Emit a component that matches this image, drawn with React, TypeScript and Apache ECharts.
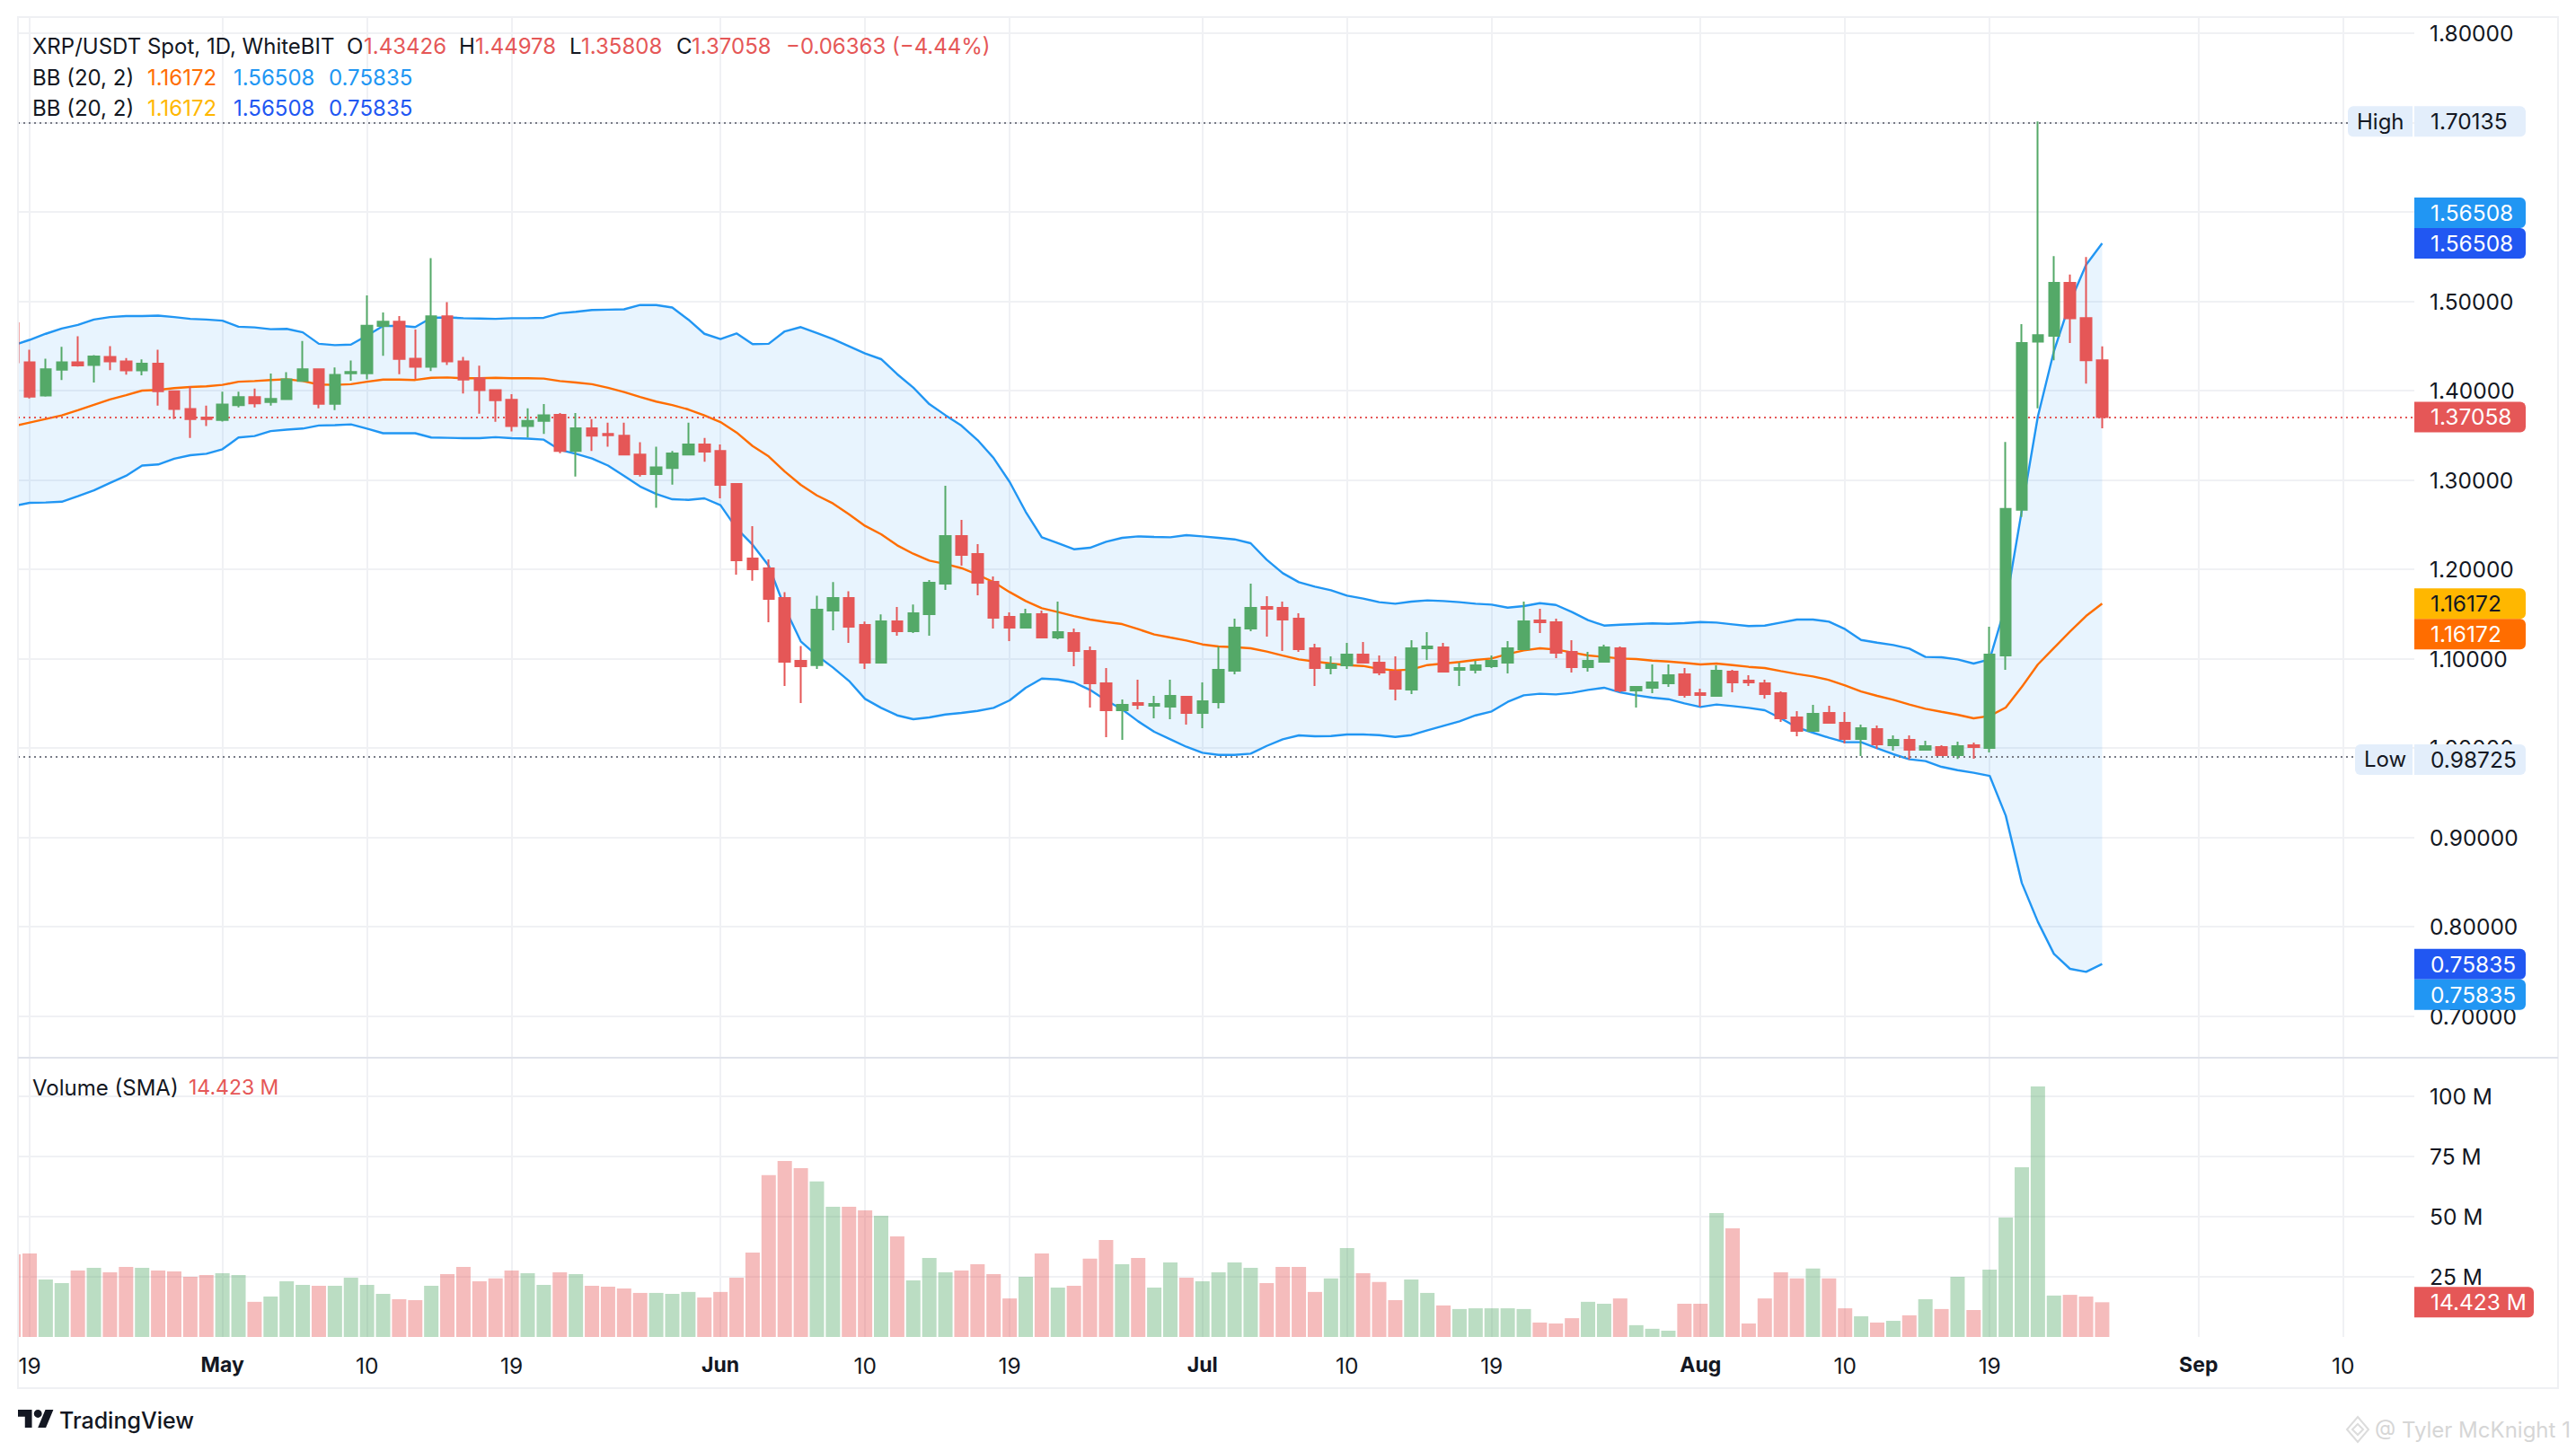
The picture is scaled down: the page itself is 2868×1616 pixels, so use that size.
import React, { useEffect, useRef } from "react";
import * as echarts from "echarts";

// index 0 is 18 Apr, index 1 is 19 Apr, ... last index is 26 Aug
const opens = [
  1.4757, 1.4320, 1.3946, 1.4236, 1.4320, 1.4288, 1.4379, 1.4328, 1.4228, 1.4304,
  1.3994, 1.3795, 1.3700, 1.3672, 1.3839, 1.3930, 1.3874, 1.3906, 1.4109, 1.4240,
  1.3855, 1.4196, 1.4196, 1.4725, 1.4773, 1.4360, 1.4268, 1.4833, 1.4328, 1.4141,
  1.4006, 1.3898, 1.3604, 1.3664, 1.3731, 1.3326, 1.3580, 1.3517, 1.3497, 1.3287,
  1.3068, 1.3135, 1.3287, 1.3398, 1.3326, 1.2957, 1.2123, 1.2012, 1.1680, 1.0977,
  1.0930, 1.1540, 1.1680, 1.1379, 1.0957, 1.1419, 1.1309, 1.1500, 1.1841, 1.2374,
  1.2173, 1.1861, 1.1469, 1.1349, 1.1500, 1.1238, 1.1288, 1.1087, 1.0726, 1.0424,
  1.0504, 1.0474, 1.0464, 1.0575, 1.0394, 1.0515, 1.0866, 1.1339, 1.1580, 1.1570,
  1.1449, 1.1118, 1.0897, 1.0927, 1.1047, 1.0957, 1.0856, 1.0655, 1.1118, 1.1128,
  1.0876, 1.0876, 1.0917, 1.0957, 1.1108, 1.1429, 1.1409, 1.1077, 1.0906, 1.0967,
  1.1118, 1.0645, 1.0675, 1.0726, 1.0826, 1.0615, 1.0585, 1.0856, 1.0756, 1.0726,
  1.0615, 1.0344, 1.0193, 1.0394, 1.0283, 1.0103, 1.0213, 1.0032, 1.0092, 0.9982,
  1.0012, 0.9922, 1.0032, 1.0002, 1.1037, 1.2669, 1.4550, 1.4615, 1.5207, 1.4815,
  1.43426,
];
const highs = [
  1.4757, 1.4459, 1.4360, 1.4491, 1.4610, 1.4399, 1.4499, 1.4367, 1.4352, 1.4459,
  1.3994, 1.4050, 1.3835, 1.3990, 1.3990, 1.4026, 1.4193, 1.4209, 1.4558, 1.4240,
  1.4260, 1.4340, 1.5067, 1.4876, 1.4836, 1.4685, 1.5484, 1.4992, 1.4379, 1.4280,
  1.4010, 1.3962, 1.3803, 1.3851, 1.3751, 1.3751, 1.3684, 1.3644, 1.3644, 1.3425,
  1.3374, 1.3326, 1.3644, 1.3473, 1.3398, 1.2957, 1.2484, 1.2112, 1.1747, 1.1144,
  1.1707, 1.1858, 1.1757, 1.1416, 1.1496, 1.1580, 1.1607, 1.1881, 1.2937, 1.2555,
  1.2283, 1.1922, 1.1520, 1.1560, 1.1540, 1.1640, 1.1338, 1.1138, 1.0896, 1.0545,
  1.0766, 1.0585, 1.0766, 1.0585, 1.0736, 1.1138, 1.1449, 1.1841, 1.1700, 1.1640,
  1.1509, 1.1168, 1.1027, 1.1178, 1.1188, 1.1037, 1.1027, 1.1208, 1.1298, 1.1178,
  1.0957, 1.0977, 1.1037, 1.1198, 1.1640, 1.1560, 1.1449, 1.1208, 1.1077, 1.1158,
  1.1138, 1.0695, 1.0937, 1.0937, 1.0897, 1.0665, 1.0927, 1.0876, 1.0816, 1.0766,
  1.0635, 1.0414, 1.0484, 1.0474, 1.0404, 1.0263, 1.0253, 1.0143, 1.0143, 1.0082,
  1.0032, 1.0072, 1.0062, 1.1359, 1.3427, 1.4746, 1.70135, 1.5507, 1.5300, 1.5496,
  1.44978,
];
const lows = [
  1.4320, 1.3914, 1.3934, 1.4121, 1.4272, 1.4093, 1.4232, 1.4181, 1.4173, 1.3835,
  1.3684, 1.3473, 1.3604, 1.3656, 1.3815, 1.3815, 1.3835, 1.3906, 1.4101, 1.3803,
  1.3783, 1.4113, 1.4129, 1.4391, 1.4185, 1.4133, 1.4220, 1.4288, 1.3970, 1.3743,
  1.3652, 1.3545, 1.3477, 1.3517, 1.3302, 1.3040, 1.3326, 1.3374, 1.3275, 1.3040,
  1.2690, 1.2949, 1.3278, 1.3207, 1.2797, 1.1942, 1.1875, 1.1409, 1.0695, 1.0505,
  1.0886, 1.1319, 1.1178, 1.0886, 1.0957, 1.1258, 1.1288, 1.1258, 1.1771, 1.2042,
  1.1711, 1.1339, 1.1198, 1.1338, 1.1228, 1.1218, 1.0917, 1.0454, 1.0123, 1.0092,
  1.0434, 1.0334, 1.0324, 1.0263, 1.0223, 1.0444, 1.0826, 1.1308, 1.1248, 1.1087,
  1.1077, 1.0695, 1.0826, 1.0886, 1.0957, 1.0816, 1.0535, 1.0605, 1.0987, 1.0856,
  1.0696, 1.0836, 1.0897, 1.0836, 1.1098, 1.1289, 1.1007, 1.0846, 1.0856, 1.0957,
  1.0625, 1.0454, 1.0615, 1.0686, 1.0565, 1.0464, 1.0585, 1.0625, 1.0696, 1.0555,
  1.0294, 1.0133, 1.0193, 1.0273, 1.0052, 0.9912, 0.9992, 0.9972, 0.98725, 0.9972,
  0.9912, 0.9880, 0.9882, 0.9952, 1.0876, 1.2588, 1.3804, 1.4342, 1.4534, 1.4080,
  1.35808,
];
const closes = [
  1.4320, 1.3934, 1.4240, 1.4320, 1.4284, 1.4383, 1.4328, 1.4228, 1.4304, 1.3994,
  1.3795, 1.3684, 1.3684, 1.3847, 1.3930, 1.3859, 1.3910, 1.4129, 1.4240, 1.3855,
  1.4177, 1.4212, 1.4729, 1.4773, 1.4356, 1.4268, 1.4833, 1.4328, 1.4125, 1.4006,
  1.3894, 1.3604, 1.3664, 1.3727, 1.3326, 1.3580, 1.3497, 1.3501, 1.3287, 1.3068,
  1.3143, 1.3298, 1.3398, 1.3318, 1.2948, 1.2103, 1.2002, 1.1670, 1.0967, 1.0917,
  1.1550, 1.1680, 1.1359, 1.0957, 1.1419, 1.1309, 1.1509, 1.1851, 1.2374, 1.2163,
  1.1851, 1.1459, 1.1349, 1.1500, 1.1238, 1.1298, 1.1087, 1.0726, 1.0424, 1.0484,
  1.0484, 1.0494, 1.0585, 1.0394, 1.0525, 1.0876, 1.1349, 1.1570, 1.1560, 1.1439,
  1.1107, 1.0897, 1.0937, 1.1047, 1.0957, 1.0846, 1.0665, 1.1118, 1.1138, 1.0856,
  1.0896, 1.0927, 1.0977, 1.1118, 1.1419, 1.1409, 1.1067, 1.0906, 1.0977, 1.1128,
  1.0645, 1.0685, 1.0736, 1.0816, 1.0595, 1.0595, 1.0866, 1.0736, 1.0736, 1.0605,
  1.0334, 1.0193, 1.0384, 1.0283, 1.0103, 1.0223, 1.0042, 1.0092, 0.9982, 1.0022,
  0.9922, 1.0022, 1.0012, 1.1047, 1.2677, 1.4534, 1.4623, 1.5207, 1.4811, 1.43421,
  1.37058,
];
const bbUpper = [
  1.4510, 1.4570, 1.4638, 1.4697, 1.4737, 1.4797, 1.4825, 1.4837, 1.4837, 1.4841,
  1.4825, 1.4805, 1.4797, 1.4785, 1.4717, 1.4709, 1.4689, 1.4693, 1.4654, 1.4526,
  1.4511, 1.4518, 1.4618, 1.4725, 1.4729, 1.4713, 1.4817, 1.4821, 1.4813, 1.4809,
  1.4805, 1.4813, 1.4813, 1.4817, 1.4868, 1.4884, 1.4904, 1.4908, 1.4912, 1.4960,
  1.4960, 1.4932, 1.4797, 1.4638, 1.4578, 1.4642, 1.4522, 1.4526, 1.4665, 1.4713,
  1.4646, 1.4578, 1.4499, 1.4419, 1.4354, 1.4186, 1.4036, 1.3851, 1.3727, 1.3610,
  1.3449, 1.3248, 1.2980, 1.2645, 1.2360, 1.2294, 1.2226, 1.2243, 1.2310, 1.2354,
  1.2370, 1.2364, 1.2360, 1.2384, 1.2370, 1.2354, 1.2337, 1.2294, 1.2109, 1.1958,
  1.1858, 1.1808, 1.1768, 1.1707, 1.1674, 1.1634, 1.1617, 1.1640, 1.1654, 1.1647,
  1.1634, 1.1617, 1.1607, 1.1573, 1.1590, 1.1623, 1.1603, 1.1523, 1.1433, 1.1372,
  1.1382, 1.1389, 1.1396, 1.1392, 1.1399, 1.1412, 1.1406, 1.1386, 1.1366, 1.1372,
  1.1406, 1.1439, 1.1439, 1.1416, 1.1332, 1.1211, 1.1181, 1.1154, 1.1114, 1.1021,
  1.1017, 1.0994, 1.0947, 1.0994, 1.1600, 1.2659, 1.3714, 1.4444, 1.4989, 1.5410,
  1.56508,
];
const bbLower = [
  1.2710, 1.2746, 1.2750, 1.2758, 1.2821, 1.2885, 1.2969, 1.3048, 1.3163, 1.3175,
  1.3239, 1.3279, 1.3295, 1.3346, 1.3477, 1.3493, 1.3549, 1.3565, 1.3577, 1.3612,
  1.3616, 1.3624, 1.3577, 1.3525, 1.3525, 1.3525, 1.3477, 1.3473, 1.3469, 1.3469,
  1.3481, 1.3469, 1.3465, 1.3453, 1.3338, 1.3295, 1.3243, 1.3163, 1.3048, 1.2929,
  1.2846, 1.2786, 1.2779, 1.2796, 1.2719, 1.2461, 1.2277, 1.2042, 1.1573, 1.1195,
  1.1037, 1.0903, 1.0753, 1.0551, 1.0451, 1.0367, 1.0324, 1.0344, 1.0377, 1.0394,
  1.0417, 1.0451, 1.0535, 1.0675, 1.0779, 1.0769, 1.0736, 1.0652, 1.0535, 1.0434,
  1.0300, 1.0183, 1.0099, 1.0015, 0.9948, 0.9925, 0.9925, 0.9938, 1.0025, 1.0099,
  1.0143, 1.0133, 1.0136, 1.0153, 1.0153, 1.0146, 1.0126, 1.0146, 1.0200, 1.0250,
  1.0300, 1.0367, 1.0411, 1.0518, 1.0592, 1.0609, 1.0602, 1.0619, 1.0652, 1.0676,
  1.0625, 1.0592, 1.0565, 1.0548, 1.0501, 1.0461, 1.0488, 1.0471, 1.0451, 1.0424,
  1.0334, 1.0233, 1.0173, 1.0116, 1.0066, 1.0066, 0.9999, 0.9932, 0.9875, 0.9855,
  0.9791, 0.9754, 0.9724, 0.9690, 0.9245, 0.8491, 0.8056, 0.7697, 0.7530, 0.7496,
  0.75835,
];
const bbMiddle = [
  1.3604, 1.3644, 1.3684, 1.3724, 1.3783, 1.3843, 1.3903, 1.3950, 1.4002, 1.4010,
  1.4030, 1.4042, 1.4050, 1.4066, 1.4101, 1.4109, 1.4121, 1.4129, 1.4109, 1.4070,
  1.4066, 1.4074, 1.4101, 1.4125, 1.4125, 1.4121, 1.4145, 1.4149, 1.4141, 1.4141,
  1.4145, 1.4141, 1.4141, 1.4137, 1.4109, 1.4093, 1.4074, 1.4034, 1.3986, 1.3930,
  1.3879, 1.3840, 1.3791, 1.3724, 1.3650, 1.3533, 1.3382, 1.3265, 1.3097, 1.2947,
  1.2829, 1.2739, 1.2618, 1.2488, 1.2394, 1.2270, 1.2176, 1.2099, 1.2062, 1.2015,
  1.1942, 1.1858, 1.1747, 1.1647, 1.1566, 1.1523, 1.1479, 1.1439, 1.1412, 1.1389,
  1.1332, 1.1272, 1.1238, 1.1205, 1.1161, 1.1138, 1.1131, 1.1118, 1.1081, 1.1037,
  1.0994, 1.0970, 1.0947, 1.0930, 1.0920, 1.0887, 1.0870, 1.0880, 1.0930, 1.0947,
  1.0964, 1.0987, 1.1004, 1.1054, 1.1094, 1.1118, 1.1104, 1.1071, 1.1037, 1.1021,
  1.1004, 1.0997, 1.0980, 1.0970, 1.0954, 1.0937, 1.0947, 1.0930, 1.0910, 1.0897,
  1.0863, 1.0830, 1.0803, 1.0763, 1.0702, 1.0635, 1.0585, 1.0541, 1.0488, 1.0441,
  1.0407, 1.0374, 1.0334, 1.0360, 1.0455, 1.0685, 1.0937, 1.1121, 1.1305, 1.1479,
  1.16172,
];
const volumes = [
  34.3, 34.7, 23.9, 22.4, 27.6, 28.7, 26.9, 29.1, 28.7, 27.6,
  27.2, 25.0, 25.7, 26.5, 25.7, 14.6, 16.8, 23.1, 21.6, 21.3,
  21.3, 24.6, 21.6, 17.9, 15.7, 15.3, 21.3, 26.1, 29.1, 23.1,
  24.3, 27.6, 26.5, 21.6, 26.9, 26.1, 21.3, 20.9, 20.1, 18.3,
  18.3, 17.9, 18.7, 16.4, 18.7, 24.6, 35.1, 67.2, 73.1, 70.1,
  64.6, 54.1, 54.1, 52.6, 50.4, 41.8, 23.5, 32.8, 26.9, 27.6,
  30.2, 26.1, 16.0, 25.0, 34.7, 20.5, 21.3, 32.5, 40.3, 30.2,
  32.8, 20.5, 31.0, 24.6, 23.1, 26.9, 31.0, 28.7, 22.4, 29.1,
  29.1, 18.7, 24.3, 36.9, 26.5, 22.8, 15.3, 23.9, 18.3, 13.1,
  11.6, 11.9, 11.9, 11.9, 11.6, 6.0, 5.6, 7.8, 14.6, 13.8,
  16.0, 4.9, 3.4, 2.6, 13.8, 13.8, 51.5, 45.1, 5.6, 16.0,
  26.9, 24.3, 28.4, 24.3, 11.9, 8.6, 6.0, 6.7, 9.0, 15.7,
  11.6, 25.0, 11.2, 28.0, 49.6, 70.5, 104.1, 17.2, 17.5, 16.8,
  14.423,
];

// days counted from 19 Apr
const tickDays = [0, 12, 21, 30, 43, 52, 61, 73, 82, 91, 104, 113, 122, 135, 144];
const tickLabels = ["19", "May", "10", "19", "Jun", "10", "19", "Jul", "10", "19", "Aug", "10", "19", "Sep", "10"];
const monthLabels = ["May", "Jun", "Jul", "Aug", "Sep"];
const priceTicks = [0.7, 0.8, 0.9, 1.0, 1.1, 1.2, 1.3, 1.4, 1.5, 1.8];
const priceGrid = [0.7, 0.8, 0.9, 1.0, 1.1, 1.2, 1.3, 1.4, 1.5, 1.6, 1.7, 1.8];
const volumeTicks = [25, 50, 75, 100];

const FONT = "Inter, 'Noto Sans', sans-serif";
const FS = 24;
const AXIS_FS = 24.5;
const INK = "#131722";
const RED = "#e55757";
const GREEN = "#54a968";
const BLUE = "#2196f3";
const DEEP_BLUE = "#2157f2";
const ORANGE = "#ff6d00";
const AMBER = "#ffb700";
const GRID = "#f0f1f4";
const TAG_BG = "#e3eefb";

const PX_PER_DAY = 17.887;
const DAY0_X = 33;
const PANE_L = 20;
const PANE_R = 2688;

echarts.graphic.registerShape(
  "tvlogo",
  echarts.graphic.extendPath(
    "M14 22H7V11H0V4h14v18zM28 22h-8l7.5-18h8L28 22zM24 8a4 4 0 1 1-8 0 4 4 0 0 1 8 0z",
    {}
  ) as any
);

export default function App() {
  const ref = useRef<HTMLDivElement>(null);
  useEffect(() => {
    document.body.style.margin = "0";
    const chart = echarts.init(ref.current!, undefined, { renderer: "svg", width: 2868, height: 1616 });
    const dayOf = (i: number) => i - 1;
    const xMin = (PANE_L - DAY0_X) / PX_PER_DAY;
    const xMax = (PANE_R - DAY0_X) / PX_PER_DAY;
    const isUp = (i: number) => closes[i] >= opens[i];

    const xBase = {
      type: "value",
      min: xMin,
      max: xMax,
      axisLine: { show: false },
      axisTick: { show: false, customValues: tickDays },
      splitLine: { show: true, lineStyle: { color: GRID, width: 2 } },
    };
    const line = (name: string, values: number[], color: string) => ({
      name,
      type: "line",
      xAxisIndex: 0,
      yAxisIndex: 0,
      data: values.map((v, i) => [dayOf(i), v]),
      showSymbol: false,
      symbol: "none",
      silent: true,
      z: 3,
      lineStyle: { color, width: 2.4 },
    });

    chart.setOption({
      animation: false,
      backgroundColor: "#ffffff",
      textStyle: { fontFamily: FONT },
      grid: [
        { left: PANE_L, width: PANE_R - PANE_L, top: 20, height: 1158 },
        { left: PANE_L, width: PANE_R - PANE_L, top: 1178, height: 311 },
      ],
      xAxis: [
        { ...xBase, gridIndex: 0, axisLabel: { show: false } },
        {
          ...xBase,
          gridIndex: 1,
          axisLabel: {
            show: true,
            customValues: tickDays,
            margin: 19,
            hideOverlap: false,
            showMinLabel: true,
            showMaxLabel: true,
            fontFamily: FONT,
            fontSize: AXIS_FS,
            color: INK,
            formatter: (v: number) => {
              const t = tickLabels[tickDays.indexOf(Math.round(v))] ?? "";
              return monthLabels.includes(t) ? `{b|${t}}` : t;
            },
            rich: { b: { fontFamily: FONT, fontSize: 23, fontWeight: 700, color: INK } },
          },
        },
      ],
      yAxis: [
        {
          type: "value",
          gridIndex: 0,
          position: "right",
          min: 0.6535,
          max: 1.8173,
          axisLine: { show: false },
          axisTick: { show: false, customValues: priceGrid },
          splitLine: { show: true, lineStyle: { color: GRID, width: 2 } },
          axisLabel: {
            customValues: priceTicks,
            margin: 17,
            align: "left",
            fontFamily: FONT,
            fontSize: AXIS_FS,
            color: INK,
            formatter: (v: number) => v.toFixed(5),
          },
        },
        {
          type: "value",
          gridIndex: 1,
          position: "right",
          min: 0,
          max: 116,
          axisLine: { show: false },
          axisTick: { show: false, customValues: volumeTicks },
          splitLine: { show: true, lineStyle: { color: GRID, width: 2 } },
          axisLabel: {
            customValues: volumeTicks,
            margin: 17,
            align: "left",
            fontFamily: FONT,
            fontSize: AXIS_FS,
            color: INK,
            formatter: (v: number) => `${v} M`,
          },
        },
      ],
      series: [
        {
          name: "BB band",
          type: "custom",
          xAxisIndex: 0,
          yAxisIndex: 0,
          silent: true,
          z: 1,
          encode: { x: 0, y: [1, 2] },
          data: bbUpper.map((u, i) => [dayOf(i), u, bbLower[i]]),
          renderItem: (params: any, api: any) => {
            if (params.dataIndex !== 0) return null;
            const top = bbUpper.map((v, i) => api.coord([dayOf(i), v]));
            const bottom = bbLower.map((v, i) => api.coord([dayOf(i), v])).reverse();
            return {
              type: "polygon",
              shape: { points: [...top, ...bottom] },
              style: { fill: "rgba(33,150,243,0.1)" },
            };
          },
        },
        line("BB upper", bbUpper, BLUE),
        line("BB lower", bbLower, BLUE),
        line("BB basis", bbMiddle, ORANGE),
        {
          name: "XRP/USDT",
          type: "candlestick",
          xAxisIndex: 0,
          yAxisIndex: 0,
          barWidth: 12,
          z: 5,
          silent: true,
          encode: { x: 0, y: [1, 2, 3, 4] },
          data: opens.map((o, i) => [dayOf(i), o, closes[i], lows[i], highs[i]]),
          itemStyle: { color: GREEN, color0: RED, borderColor: GREEN, borderColor0: RED, borderWidth: 2 },
          markLine: {
            silent: true,
            symbol: "none",
            animation: false,
            label: { show: false },
            data: [
              { yAxis: Math.max(...highs), lineStyle: { color: "#787b86", type: [2, 4], width: 2 } },
              { yAxis: Math.min(...lows), lineStyle: { color: "#787b86", type: [2, 4], width: 2 } },
              { yAxis: closes[closes.length - 1], lineStyle: { color: RED, type: [2, 4], width: 2 } },
            ],
          },
        },
        {
          name: "Volume",
          type: "bar",
          xAxisIndex: 1,
          yAxisIndex: 1,
          barWidth: 16,
          silent: true,
          data: volumes.map((v, i) => ({
            value: [dayOf(i), v],
            itemStyle: { color: isUp(i) ? "rgba(84,169,104,0.4)" : "rgba(229,87,87,0.4)" },
          })),
        },
      ],
    });

    const py = (v: number) => chart.convertToPixel({ yAxisIndex: 0 }, v) as number;
    const vy = (v: number) => chart.convertToPixel({ yAxisIndex: 1 }, v) as number;
    const last = opens.length - 1;
    const fmt = (v: number) => v.toFixed(5);

    const txt = (text: string, x: number, y: number, fill = INK, extra: any = {}) => ({
      type: "text",
      z: 110,
      x,
      y,
      silent: true,
      style: { text, fill, font: `${extra.weight ?? 400} ${extra.size ?? FS}px ${FONT}`, verticalAlign: "middle" },
    });
    const tag = (text: string, center: number, bg: string, fill: string, w = 124) => [
      { type: "rect", z: 100, silent: true, shape: { x: PANE_R, y: center - 17, width: w, height: 34, r: [0, 6, 6, 0] }, style: { fill: bg } },
      txt(text, 2706, center, fill, { size: AXIS_FS }),
    ];
    const sideTag = (label: string, center: number, left: number, textX: number) => [
      { type: "rect", z: 100, silent: true, shape: { x: left, y: center - 17, width: PANE_R - 2 - left, height: 34, r: [6, 0, 0, 6] }, style: { fill: TAG_BG } },
      txt(label, textX, center),
    ];

    const hiY = py(Math.max(...highs));
    const loY = py(Math.min(...lows));
    const upY = py(bbUpper[last]);
    const midY = py(bbMiddle[last]);
    const dnY = py(bbLower[last]);
    const closeY = py(closes[last]);
    const volY = vy(volumes[last]);

    const r1 = 51, r2 = 86, r3 = 120;
    chart.setOption({
      graphic: [
        { type: "rect", z: 89, silent: true, shape: { x: 0, y: 0, width: 20, height: 1546 }, style: { fill: "#ffffff" } },
        { type: "rect", z: 90, silent: true, shape: { x: 20, y: 19, width: 2828, height: 1527 }, style: { fill: "none", stroke: "#eff0f3", lineWidth: 2 } },
        { type: "line", z: 90, silent: true, shape: { x1: 20, y1: 1178, x2: 2848, y2: 1178 }, style: { stroke: "#e0e3eb", lineWidth: 2 } },

        txt("XRP/USDT Spot, 1D, WhiteBIT", 36, r1),
        txt("O", 386, r1), txt("1.43426", 405, r1, RED),
        txt("H", 511, r1), txt("1.44978", 529, r1, RED),
        txt("L", 634, r1), txt("1.35808", 647, r1, RED),
        txt("C", 753, r1), txt("1.37058", 770, r1, RED),
        txt("\u22120.06363 (\u22124.44%)", 875, r1, RED),
        txt("BB (20, 2)", 36, r2),
        txt(fmt(bbMiddle[last]), 164, r2, ORANGE), txt(fmt(bbUpper[last]), 260, r2, BLUE), txt(fmt(bbLower[last]), 366, r2, BLUE),
        txt("BB (20, 2)", 36, r3),
        txt(fmt(bbMiddle[last]), 164, r3, AMBER), txt(fmt(bbUpper[last]), 260, r3, DEEP_BLUE), txt(fmt(bbLower[last]), 366, r3, DEEP_BLUE),
        txt("Volume (SMA)", 36, 1211),
        txt("14.423 M", 210, 1211, RED, { size: 23 }),

        ...sideTag("High", hiY, 2614, 2624),
        ...tag(fmt(Math.max(...highs)), hiY, TAG_BG, INK),
        ...sideTag("Low", loY, 2622, 2632),
        ...tag(fmt(Math.min(...lows)), loY, TAG_BG, INK),
        ...tag(fmt(bbUpper[last]), upY - 34, BLUE, "#ffffff"),
        ...tag(fmt(bbUpper[last]), upY, DEEP_BLUE, "#ffffff"),
        ...tag(fmt(closes[last]), closeY, RED, "#ffffff"),
        ...tag(fmt(bbMiddle[last]), midY, AMBER, INK),
        ...tag(fmt(bbMiddle[last]), midY + 34, ORANGE, "#ffffff"),
        ...tag(fmt(bbLower[last]), dnY, DEEP_BLUE, "#ffffff"),
        ...tag(fmt(bbLower[last]), dnY + 34, BLUE, "#ffffff"),
        ...tag("14.423 M", volY, RED, "#ffffff", 133),

        { type: "tvlogo", z: 100, silent: true, x: 20, y: 1565.6, scaleX: 1.11, scaleY: 1.11, style: { fill: INK } },
        txt("TradingView", 66, 1582, INK, { weight: 500, size: 25 }),

        { type: "polygon", z: 100, silent: true, shape: { points: [[2625, 1578], [2637, 1592], [2625, 1606], [2613, 1592]] }, style: { fill: "none", stroke: "#dcdcdc", lineWidth: 2 } },
        { type: "polygon", z: 100, silent: true, shape: { points: [[2625, 1586], [2631, 1592], [2625, 1598], [2619, 1592]] }, style: { fill: "none", stroke: "#dcdcdc", lineWidth: 2 } },
        txt("@ Tyler McKnight 1", 2644, 1592, "#d6d6d6"),
      ],
    });
    return () => chart.dispose();
  }, []);
  return <div ref={ref} style={{ position: "fixed", left: 0, top: 0, width: 2868, height: 1616 }} />;
}
